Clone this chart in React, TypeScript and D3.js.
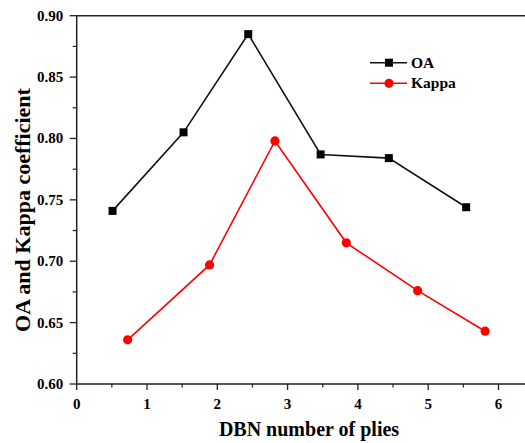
import React, { useRef, useEffect } from 'react';
import * as d3 from 'd3';

// values
const oaPlies = [0.51, 1.52, 2.44, 3.47, 4.44, 5.54];
const oaValues = [0.741, 0.805, 0.885, 0.787, 0.784, 0.744];
const kappaPlies = [0.725, 1.89, 2.82, 3.835, 4.85, 5.81];
const kappaValues = [0.636, 0.697, 0.798, 0.715, 0.676, 0.643];
const xTicks = [0, 1, 2, 3, 4, 5, 6];
const yTicks = [0.6, 0.65, 0.7, 0.75, 0.8, 0.85, 0.9];
const seriesNames = ['OA', 'Kappa'];

const W = 525;
const H = 443;
const FONT = '"Liberation Serif", "Times New Roman", serif';

const App = () => {
    const ref = useRef<SVGSVGElement>(null);

    useEffect(() => {
        const svg = d3.select(ref.current);
        svg.selectAll('*').remove();

        var left = 76.7, top = 15.7, bottom = 384;
        var xScale = d3.scaleLinear().domain([0, 6.5]).range([left, left + 6.5 * 70.3]);
        var yScale = d3.scaleLinear().domain([0.6, 0.9]).range([bottom, top]);

        // frame (right side runs off the picture)
        svg.append('path')
            .attr('d', `M${xScale(6.5)},${top}H${left}V${bottom}H${xScale(6.5)}`)
            .attr('fill', 'none')
            .attr('stroke', '#222')
            .attr('stroke-width', 1.5);

        // x ticks
        var xMinor = d3.range(0.5, 6.5, 1);
        const gx = svg.append('g');
        gx.selectAll('line.major').data(xTicks).enter().append('line')
            .attr('x1', d => xScale(d)).attr('x2', d => xScale(d))
            .attr('y1', bottom).attr('y2', bottom + 6)
            .attr('stroke', '#222').attr('stroke-width', 1.3);
        gx.selectAll('line.minor').data(xMinor).enter().append('line')
            .attr('x1', d => xScale(d)).attr('x2', d => xScale(d))
            .attr('y1', bottom).attr('y2', bottom + 3.5)
            .attr('stroke', '#222').attr('stroke-width', 1.2);
        gx.selectAll('text').data(xTicks).enter().append('text')
            .attr('x', d => xScale(d)).attr('y', 409)
            .attr('text-anchor', 'middle')
            .style('font-family', FONT).style('font-weight', 'bold').style('font-size', '15px')
            .text(d => d3.format('d')(d));

        // y ticks
        var yMinor = d3.range(0.625, 0.9, 0.05);
        const gy = svg.append('g');
        gy.selectAll('line.major').data(yTicks).enter().append('line')
            .attr('y1', d => yScale(d)).attr('y2', d => yScale(d))
            .attr('x1', left).attr('x2', left - 7)
            .attr('stroke', '#222').attr('stroke-width', 1.3);
        gy.selectAll('line.minor').data(yMinor).enter().append('line')
            .attr('y1', d => yScale(d)).attr('y2', d => yScale(d))
            .attr('x1', left).attr('x2', left - 4)
            .attr('stroke', '#222').attr('stroke-width', 1.2);
        gy.selectAll('text').data(yTicks).enter().append('text')
            .attr('x', left - 13.5).attr('y', d => yScale(d) + 5)
            .attr('text-anchor', 'end')
            .style('font-family', FONT).style('font-weight', 'bold').style('font-size', '15px')
            .text(d => d3.format('.2f')(d));

        // axis titles
        svg.append('text')
            .attr('x', 309).attr('y', 436)
            .attr('text-anchor', 'middle')
            .style('font-family', FONT).style('font-weight', 'bold').style('font-size', '20px')
            .text('DBN number of plies');
        svg.append('text')
            .attr('transform', 'translate(29.5,210) rotate(-90)')
            .attr('text-anchor', 'middle')
            .style('font-family', FONT).style('font-weight', 'bold').style('font-size', '22px')
            .text('OA and Kappa coefficient');

        const line = d3.line<[number, number]>()
            .x(d => xScale(d[0]))
            .y(d => yScale(d[1]));

        var oa = oaPlies.map((p, i) => [p, oaValues[i]] as [number, number]);
        var kappa = kappaPlies.map((p, i) => [p, kappaValues[i]] as [number, number]);

        svg.append('path').datum(oa)
            .attr('d', line).attr('fill', 'none')
            .attr('stroke', '#111').attr('stroke-width', 1.6);
        svg.selectAll('rect.oa').data(oa).enter().append('rect')
            .attr('x', d => xScale(d[0]) - 4).attr('y', d => yScale(d[1]) - 4)
            .attr('width', 8).attr('height', 8)
            .attr('fill', '#000');

        svg.append('path').datum(kappa)
            .attr('d', line).attr('fill', 'none')
            .attr('stroke', '#ff0000').attr('stroke-width', 1.6);
        svg.selectAll('circle.kappa').data(kappa).enter().append('circle')
            .attr('cx', d => xScale(d[0])).attr('cy', d => yScale(d[1]))
            .attr('r', 4.6)
            .attr('fill', '#ff0000');

        // legend
        const lg = svg.append('g');
        var legendY = [62.7, 83.3];
        var colors = ['#111', '#ff0000'];
        seriesNames.forEach((name, i) => {
            lg.append('line')
                .attr('x1', 370).attr('x2', 407)
                .attr('y1', legendY[i]).attr('y2', legendY[i])
                .attr('stroke', colors[i]).attr('stroke-width', 1.6);
            if (i === 0) {
                lg.append('rect')
                    .attr('x', 385).attr('y', legendY[i] - 4)
                    .attr('width', 8).attr('height', 8).attr('fill', '#000');
            } else {
                lg.append('circle')
                    .attr('cx', 389).attr('cy', legendY[i]).attr('r', 4.6)
                    .attr('fill', '#ff0000');
            }
            lg.append('text')
                .attr('x', 411).attr('y', legendY[i] + 5)
                .style('font-family', FONT).style('font-weight', 'bold').style('font-size', '15.5px')
                .text(name);
        });
    }, []);

    return (
        <svg
            ref={ref}
            width={W}
            height={H}
            viewBox={`0 0 ${W} ${H}`}
            style={{ position: 'absolute', left: 0, top: 0, background: '#fff', overflow: 'hidden' }}
        />
    );
};

export default App;
